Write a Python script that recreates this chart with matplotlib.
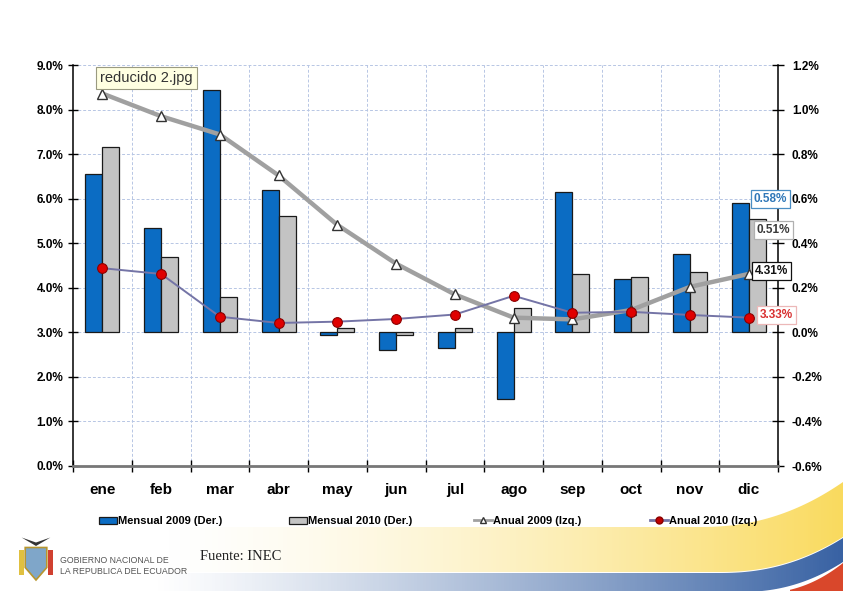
import numpy as np
import matplotlib
matplotlib.use("Agg")
import matplotlib.pyplot as plt
from matplotlib.patches import Polygon, Patch
from matplotlib.lines import Line2D

# ---- data ----
months = ["ene", "feb", "mar", "abr", "may", "jun", "jul", "ago", "sep", "oct", "nov", "dic"]
mensual_2009 = [0.71, 0.47, 1.09, 0.64, -0.01, -0.08, -0.07, -0.30, 0.63, 0.24, 0.35, 0.58]
mensual_2010 = [0.83, 0.34, 0.16, 0.52, 0.02, -0.01, 0.02, 0.11, 0.26, 0.25, 0.27, 0.51]
anual_2009 = [8.36, 7.85, 7.44, 6.52, 5.41, 4.54, 3.85, 3.33, 3.29, 3.50, 4.02, 4.31]
anual_2010 = [4.44, 4.31, 3.35, 3.21, 3.24, 3.30, 3.40, 3.82, 3.44, 3.46, 3.39, 3.33]
left_ticks = [0, 1, 2, 3, 4, 5, 6, 7, 8, 9]
right_ticks = [-0.6, -0.4, -0.2, 0.0, 0.2, 0.4, 0.6, 0.8, 1.0, 1.2]
legend_labels = ["Mensual 2009 (Der.)", "Mensual 2010 (Der.)", "Anual 2009 (Izq.)", "Anual 2010 (Izq.)"]

W, H = 843, 591
fig = plt.figure(figsize=(W / 100, H / 100), dpi=100)
fig.patch.set_facecolor("white")

FONT = ["Liberation Sans Narrow", "Liberation Sans", "DejaVu Sans"]

# ---- decorative background swoosh ----
bg = fig.add_axes([0, 0, 1, 1], zorder=-10)
bg.set_xlim(0, W)
bg.set_ylim(H, 0)
bg.axis("off")
xs = np.linspace(150, W, 200)
def rise(x, x0, amp):
    t = np.clip((x - x0) / (W - x0), 0, 1)
    return amp * t ** 2.2
ytop = 527 - rise(xs, 700, 45)
ybot = 572 - rise(xs, 720, 35)
poly = Polygon(np.vstack([np.column_stack([xs, ytop]), np.column_stack([xs[::-1], ybot[::-1]])]),
               closed=True, facecolor="none", edgecolor="none")
bg.add_patch(poly)
grad = np.zeros((2, 256, 4))
grad[..., 0] = 0.98
grad[..., 1] = 0.84
grad[..., 2] = 0.30
grad[..., 3] = np.linspace(0, 1, 256) ** 1.5 * 0.9
im = bg.imshow(grad, extent=[150, W, H, 460], aspect="auto", zorder=1)
im.set_clip_path(poly)
ybt = ybot + 1
ybb = 592 - rise(xs, 740, 30)
poly2 = Polygon(np.vstack([np.column_stack([xs, ybt]), np.column_stack([xs[::-1], ybb[::-1]])]),
                closed=True, facecolor="none", edgecolor="none")
bg.add_patch(poly2)
grad2 = np.zeros((2, 256, 4))
grad2[..., 0] = 0.18
grad2[..., 1] = 0.35
grad2[..., 2] = 0.62
grad2[..., 3] = np.linspace(0, 1, 256) ** 1.2 * 0.95
im2 = bg.imshow(grad2, extent=[150, W, H, 460], aspect="auto", zorder=1)
im2.set_clip_path(poly2)
xr = np.linspace(790, W, 50)
poly3 = Polygon(np.vstack([np.column_stack([xr, 592 - rise(xr, 760, 30) + 1]),
                           np.column_stack([[W, 790], [H, H]])]),
                closed=True, facecolor="#d9472b", edgecolor="none", zorder=2)
bg.add_patch(poly3)

# ---- main axes ----
l, r, b, t = 73 / W, 778 / W, 1 - 466 / H, 1 - 65 / H
ax2 = fig.add_axes([l, b, r - l, t - b])          # bars, right scale
ax = fig.add_axes([l, b, r - l, t - b], sharex=ax2)  # lines, left scale
ax.set_zorder(ax2.get_zorder() + 1)
ax.patch.set_visible(False)
ax2.patch.set_facecolor("white")

x = np.arange(len(months))
bw = 0.29
ax2.bar(x - bw / 2, mensual_2009, width=bw, color="#0b6cc3", edgecolor="#1a1a1a", linewidth=0.9, zorder=3)
ax2.bar(x + bw / 2, mensual_2010, width=bw, color="#c3c3c3", edgecolor="#1a1a1a", linewidth=0.9, zorder=3)
ax2.set_ylim(-0.6, 1.2)
ax2.set_yticks(right_ticks)
ax2.yaxis.tick_right()
ax2.set_yticklabels([f"{v:.1f}%" for v in right_ticks], fontfamily=FONT, fontweight="bold", fontsize=8.5)
ax2.grid(axis="y", color="#b7c6e4", linestyle=(0, (3, 2)), linewidth=0.7, zorder=0)
for bx in np.arange(0.5, len(months) - 1, 1.0):
    ax2.axvline(bx, color="#b7c6e4", linestyle=(0, (3, 2)), linewidth=0.7, zorder=0)
ax2.tick_params(axis="y", direction="inout", length=8, width=1, pad=6, right=True, left=False)
ax2.tick_params(axis="x", bottom=False, labelbottom=False)

ax.plot(x, anual_2009, color="#a0a0a0", linewidth=3.2, marker="^", markersize=7,
        markerfacecolor="white", markeredgecolor="#333333", markeredgewidth=1, zorder=4)
ax.plot(x, anual_2010, color="#7474a6", linewidth=1.4, marker="o", markersize=7,
        markerfacecolor="#e00000", markeredgecolor="#8a0000", markeredgewidth=0.8, zorder=5)
ax.set_ylim(0, 9)
ax.set_xlim(-0.5, len(months) - 0.5)
ax.set_yticks(left_ticks)
ax.set_yticklabels([f"{v:.1f}%" for v in left_ticks], fontfamily=FONT, fontweight="bold", fontsize=8.5)
ax.set_xticks(x)
ax.set_xticklabels(months, fontfamily=FONT, fontweight="bold", fontsize=11)
ax.set_xticks(np.arange(-0.5, len(months), 1.0), minor=True)
ax.tick_params(axis="x", which="major", length=0, pad=12)
ax.tick_params(axis="x", which="minor", length=8, direction="inout", width=1)
ax.tick_params(axis="y", direction="inout", length=7, width=1)
ax.yaxis.tick_left()

for a in (ax, ax2):
    a.spines["top"].set_visible(False)
ax.spines["right"].set_visible(False)
ax.spines["left"].set_linewidth(1.1)
ax.spines["bottom"].set_color("#777777")
ax.spines["bottom"].set_linewidth(2)
ax2.spines["left"].set_visible(False)
ax2.spines["bottom"].set_visible(False)
ax2.spines["right"].set_linewidth(1.1)

# ---- end labels (boxes sit over the last gray bar, left of the right labels) ----
def end_label(axis, value, dx, dy, color, edge):
    axis.annotate(f"{value:.2f}%", xy=(x[-1], value), xycoords="data",
                  xytext=(dx, dy), textcoords="offset pixels", ha="left", va="center", fontsize=8.5,
                  fontfamily=FONT, fontweight="bold", color=color, zorder=10,
                  bbox=dict(boxstyle="square,pad=0.25", facecolor="white", edgecolor=edge, linewidth=0.9))

end_label(ax2, mensual_2009[-1], 5, 4, "#2f77b8", "#4a8ec4")
end_label(ax2, mensual_2010[-1], 8, -11, "#3a3a3a", "#b0b0b0")
end_label(ax, anual_2009[-1], 6, 3, "#111111", "#111111")
end_label(ax, anual_2010[-1], 11, 3, "#d83030", "#ecb8b8")

# ---- legend (four entries spread across) ----
handles = [
    Patch(facecolor="#0b6cc3", edgecolor="#1a1a1a", linewidth=0.9),
    Patch(facecolor="#c3c3c3", edgecolor="#1a1a1a", linewidth=0.9),
    Line2D([], [], color="#a0a0a0", linewidth=2, marker="^", markersize=4, markerfacecolor="white", markeredgecolor="#333333"),
    Line2D([], [], color="#7474a6", linewidth=2, marker="o", markersize=5, markerfacecolor="#c00000", markeredgecolor="#8a0000"),
]
leg_x = [99, 289, 474, 650]
for hnd, lab, lx in zip(handles, legend_labels, leg_x):
    lg = fig.legend([hnd], [lab], loc="center left", bbox_to_anchor=(lx / W, 1 - 521 / H), frameon=False,
                    prop=dict(family=FONT, weight="bold", size=8), handlelength=1.6,
                    handletextpad=0.1, handleheight=0.6, borderpad=0, borderaxespad=0)

# ---- footer ----
fig.text(200 / W, 1 - 557 / H, "Fuente: INEC", fontfamily=["Liberation Serif", "DejaVu Serif"], fontsize=10.5,
         color="#222222", va="center", ha="left")
fig.text(60 / W, 1 - 566 / H, "GOBIERNO NACIONAL DE\nLA REPUBLICA DEL ECUADOR", fontfamily=FONT, fontsize=6.3,
         color="#555555", va="center", ha="left", linespacing=1.3)
logo = fig.add_axes([18 / W, 1 - 585 / H, 36 / W, 50 / H])
logo.set_xlim(0, 1); logo.set_ylim(0, 1); logo.axis("off")
logo.add_patch(Polygon([[0.2, 0.75], [0.8, 0.75], [0.8, 0.35], [0.5, 0.1], [0.2, 0.35]], closed=True,
                       facecolor="#7fa6c9", edgecolor="#b8962e", linewidth=1.2))
logo.add_patch(Polygon([[0.1, 0.95], [0.5, 0.78], [0.9, 0.95], [0.5, 0.85]], closed=True,
                       facecolor="#333333", edgecolor="none"))
logo.add_patch(Polygon([[0.02, 0.7], [0.18, 0.7], [0.18, 0.2], [0.02, 0.2]], closed=True,
                       facecolor="#e0c040", edgecolor="none"))
logo.add_patch(Polygon([[0.82, 0.7], [0.98, 0.7], [0.98, 0.2], [0.82, 0.2]], closed=True,
                       facecolor="#d04030", edgecolor="none"))

# ---- tooltip ----
fig.text(100 / W, 1 - 78 / H, "reducido 2.jpg", fontfamily=["Liberation Sans", "DejaVu Sans"], fontsize=10.5,
         color="#333333", va="center", ha="left", zorder=20,
         bbox=dict(boxstyle="square,pad=0.3", facecolor="#ffffe1", edgecolor="#9a9a80", linewidth=0.8))

fig.savefig("out.png", dpi=100)
